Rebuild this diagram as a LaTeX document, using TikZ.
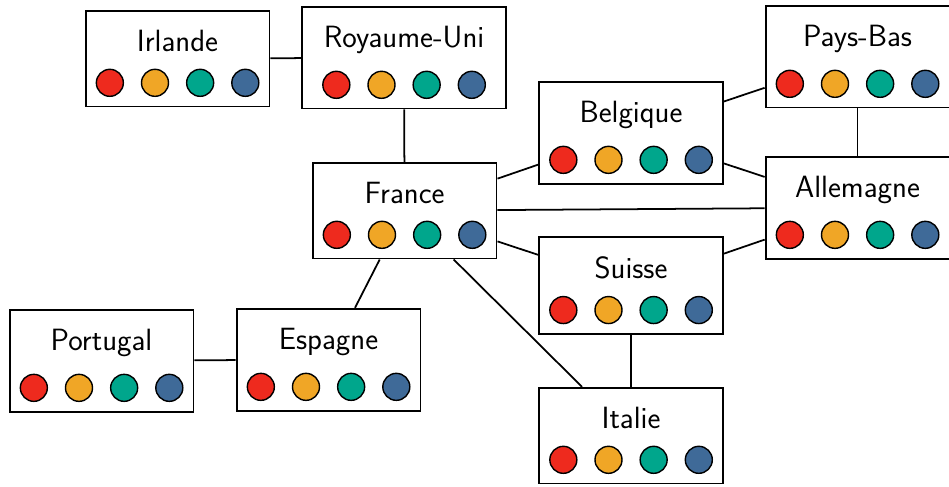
\documentclass[tikz,border=0pt]{standalone}
\usepackage{fontspec}
\usetikzlibrary{positioning,fit}
\definecolor{rougep}{RGB}{238,42,30}
\definecolor{orangep}{RGB}{240,166,38}
\definecolor{vertp}{RGB}{0,166,140}
\definecolor{bleup}{RGB}{63,106,152}
% une case pays : nom + quatre pions
\newcommand{\pays}[3]{%
  \node[nom] (#1-t) at (#2) {#3};
  \node[pion,fill=orangep,below=1.2mm of #1-t,xshift=-4.5mm] (#1-2) {};
  \node[pion,fill=rougep,left=of #1-2] (#1-1) {};
  \node[pion,fill=vertp,right=of #1-2] (#1-3) {};
  \node[pion,fill=bleup,right=of #1-3] (#1-4) {};
  \node[boite,fit=(#1-t)(#1-1)(#1-4)] (#1) {};
}

\begin{document}
\begin{tikzpicture}[line width=1pt,node distance=3.35mm,
  nom/.style={anchor=base,inner xsep=2.1mm,inner ysep=1.9mm,font=\sffamily\fontsize{17.5}{21}\selectfont},
  pion/.style={circle,draw,line width=0.8pt,minimum size=5.4mm,inner sep=0pt},
  boite/.style={draw,line width=1.1pt,inner xsep=2mm,inner ysep=1.9mm}]
  \useasboundingbox (0,0) rectangle (18.98,-9.74);
  \pays{irlande}{3.55,-1.04}{Irlande}
  \pays{ru}{8.08,-0.96}{Royaume-Uni}
  \pays{paysbas}{17.15,-0.94}{Pays-Bas}
  \pays{belgique}{12.62,-2.46}{Belgique}
  \pays{france}{8.09,-4.08}{France}
  \pays{allemagne}{17.15,-3.96}{Allemagne}
  \pays{suisse}{12.62,-5.58}{Suisse}
  \pays{portugal}{2.03,-7.02}{Portugal}
  \pays{espagne}{6.57,-7.00}{Espagne}
  \pays{italie}{12.62,-8.58}{Italie}

  % frontieres
  \draw (irlande) -- (ru);
  \draw (ru) -- (france);
  \draw (france) -- (belgique);
  \draw (france) -- (allemagne);
  \draw (france) -- (suisse);
  \draw (france) -- (espagne);
  \draw (france) -- (italie);
  \draw (portugal) -- (espagne);
  \draw (belgique) -- (paysbas);
  \draw (belgique) -- (allemagne);
  \draw (paysbas) -- (allemagne);
  \draw (allemagne) -- (suisse);
  \draw (suisse) -- (italie);
\end{tikzpicture}
\end{document}
